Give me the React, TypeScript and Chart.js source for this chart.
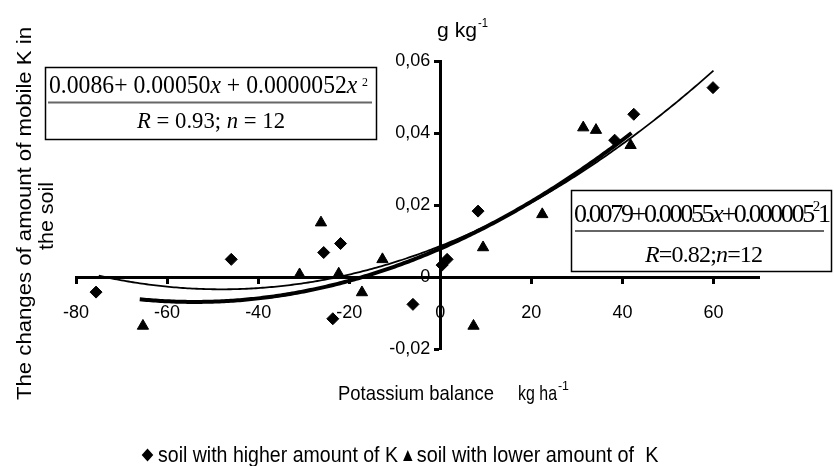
import React, { useEffect, useRef } from 'react';
import { Chart, registerables } from 'chart.js';

Chart.register(...registerables);

// ---- data ----
const higherX = [-75.6, -45.9, -25.6, -23.6, -21.9, -6.0, 0.4, 1.5, 8.3, 38.3, 42.5, 59.9];
const higherY = [-0.0042, 0.0049, 0.0068, -0.0116, 0.0093, -0.0076, 0.0033, 0.0049, 0.0183, 0.038, 0.0452, 0.0526];

const lowerX = [-65.3, -30.9, -26.2, -22.3, -17.2, -12.7, 7.3, 9.4, 22.4, 31.4, 34.2, 41.8];
const lowerY = [-0.0136, 0.0007, 0.0151, 0.0009, -0.0043, 0.0049, -0.0136, 0.0082, 0.0174, 0.0415, 0.0408, 0.0366];

// printed regression equations (a + b x + c x^2) and the x-range each curve covers
const higherFit = [0.0086, 0.0005, 0.0000052];
const higherFitRange = [-75, 60];
const lowerFit = [0.0079, 0.00055, 0.0000051];
const lowerFitRange = [-66, 42];

const xMin = -80;
const xMax = 70;
const xStep = 20;
const yMin = -0.02;
const yMax = 0.06;
const yStep = 0.02;

const legendLabels = ['soil with higher amount of K', 'soil with lower amount of  K'];
const yTitleLines = ['The changes of amount of mobile K in', 'the soil'];
const xTitle = 'Potassium balance';
const xUnit = 'kg ha';
const yUnit = 'g kg';
const unitSup = '-1';

const SANS = '"Liberation Sans", Arial, sans-serif';
const SERIF = '"Liberation Serif", "Times New Roman", serif';

function curve(c: number[], range: number[]) {
  const pts: { x: number; y: number }[] = [];
  for (let x = range[0]; x <= range[1] + 1e-9; x += 0.5) {
    pts.push({ x, y: c[0] + c[1] * x + c[2] * x * x });
  }
  return pts;
}

function fitText(ctx: CanvasRenderingContext2D, text: string, x: number, y: number, width: number, font: string, align: 'left' | 'center' = 'left') {
  ctx.font = font;
  ctx.textAlign = 'left';
  ctx.textBaseline = 'alphabetic';
  const w = ctx.measureText(text).width;
  const k = width / w;
  ctx.save();
  ctx.translate(x, y);
  ctx.scale(k, 1);
  ctx.fillText(text, align === 'center' ? -w / 2 : 0, 0);
  ctx.restore();
}

type Seg = { t: string; it?: boolean; sup?: boolean };

function drawRich(
  ctx: CanvasRenderingContext2D,
  segs: Seg[],
  left: number,
  baseline: number,
  width: number,
  size: number,
  supSize: number,
  supRaise: number,
  mode: 'scale' | 'spacing'
) {
  const fontFor = (s: Seg) => `${s.it ? 'italic ' : ''}${s.sup ? supSize : size}px ${SERIF}`;
  const chars: { ch: string; s: Seg; w: number }[] = [];
  segs.forEach((s) => {
    for (const ch of s.t) chars.push({ ch, s, w: 0 });
  });
  let natural = 0;
  chars.forEach((c) => {
    ctx.font = fontFor(c.s);
    c.w = ctx.measureText(c.ch).width;
    natural += c.w;
  });
  ctx.textAlign = 'left';
  ctx.textBaseline = 'alphabetic';
  if (mode === 'scale') {
    const k = width / natural;
    ctx.save();
    ctx.translate(left, baseline);
    ctx.scale(k, 1);
    let x = 0;
    chars.forEach((c) => {
      ctx.font = fontFor(c.s);
      ctx.fillText(c.ch, x, c.s.sup ? -supRaise : 0);
      x += c.w;
    });
    ctx.restore();
  } else {
    const extra = (width - natural) / Math.max(1, chars.length - 1);
    let x = left;
    chars.forEach((c) => {
      ctx.font = fontFor(c.s);
      ctx.fillText(c.ch, x, baseline - (c.s.sup ? supRaise : 0));
      x += c.w + extra;
    });
  }
}

const decorPlugin = {
  id: 'decor',
  beforeDraw(chart: any) {
    const ctx = chart.ctx as CanvasRenderingContext2D;
    ctx.save();
    ctx.fillStyle = '#fff';
    ctx.fillRect(0, 0, chart.width, chart.height);
    ctx.restore();
  },
  afterDraw(chart: any) {
    const ctx = chart.ctx as CanvasRenderingContext2D;
    ctx.save();
    ctx.fillStyle = '#000';
    ctx.strokeStyle = '#000';

    // y axis title (rotated, two lines)
    ctx.save();
    ctx.translate(30.5, 213.5);
    ctx.rotate(-Math.PI / 2);
    fitText(ctx, yTitleLines[0], 0, 0, 373, `21px ${SANS}`, 'center');
    ctx.restore();
    ctx.save();
    ctx.translate(53, 216);
    ctx.rotate(-Math.PI / 2);
    fitText(ctx, yTitleLines[1], 0, 0, 68, `21px ${SANS}`, 'center');
    ctx.restore();

    // y unit
    fitText(ctx, yUnit, 437, 37, 40, `21px ${SANS}`);
    fitText(ctx, unitSup, 478, 27, 10, `13px ${SANS}`);

    // x title + unit
    fitText(ctx, xTitle, 338, 399.5, 156, `21px ${SANS}`);
    fitText(ctx, xUnit, 518, 400, 39, `21px ${SANS}`);
    fitText(ctx, unitSup, 558, 390, 11, `13px ${SANS}`);

    // legend
    ctx.beginPath();
    ctx.moveTo(147.5, 448.5);
    ctx.lineTo(153.3, 455);
    ctx.lineTo(147.5, 461.5);
    ctx.lineTo(141.7, 455);
    ctx.closePath();
    ctx.fill();
    fitText(ctx, legendLabels[0], 158, 461.5, 240, `22px ${SANS}`);
    ctx.beginPath();
    ctx.moveTo(407.8, 450);
    ctx.lineTo(412.5, 461);
    ctx.lineTo(403.1, 461);
    ctx.closePath();
    ctx.fill();
    fitText(ctx, legendLabels[1], 416.7, 461.5, 241.7, `22px ${SANS}`);

    // equation box 1
    ctx.lineWidth = 1.5;
    ctx.strokeRect(45.5, 67.5, 331, 72);
    ctx.save();
    ctx.strokeStyle = '#666';
    ctx.lineWidth = 2;
    ctx.beginPath();
    ctx.moveTo(48, 102.5);
    ctx.lineTo(372, 102.5);
    ctx.stroke();
    ctx.restore();
    drawRich(
      ctx,
      [{ t: '0.0086+ 0.00050' }, { t: 'x', it: true }, { t: ' + 0.0000052' }, { t: 'x', it: true }, { t: '\u2009' }, { t: '2', sup: true }],
      49, 93, 319, 26, 13, 7, 'scale'
    );
    drawRich(
      ctx,
      [{ t: 'R', it: true }, { t: ' = 0.93; ' }, { t: 'n', it: true }, { t: ' = 12' }],
      137, 128, 148, 23, 14, 7, 'scale'
    );

    // equation box 2 (overlapping glyphs as in the reference)
    ctx.lineWidth = 1.5;
    ctx.strokeRect(571.5, 190.5, 260, 81);
    ctx.save();
    ctx.strokeStyle = '#666';
    ctx.lineWidth = 2;
    ctx.beginPath();
    ctx.moveTo(575, 231);
    ctx.lineTo(824, 231);
    ctx.stroke();
    ctx.restore();
    drawRich(
      ctx,
      [{ t: '0.0079+0.00055' }, { t: 'x', it: true }, { t: '+0.000005' }, { t: '2', sup: true }, { t: '1' }],
      574, 221.5, 257, 26, 15, 11, 'spacing'
    );
    drawRich(
      ctx,
      [{ t: 'R', it: true }, { t: '=0.82;' }, { t: 'n', it: true }, { t: '=12' }],
      645, 262, 118, 24, 14, 7, 'spacing'
    );

    ctx.restore();
  },
};

export default function App() {
  const canvasRef = useRef<HTMLCanvasElement | null>(null);

  useEffect(() => {
    if (!canvasRef.current) return;
    const higherPts = higherX.map((x, i) => ({ x, y: higherY[i] }));
    const lowerPts = lowerX.map((x, i) => ({ x, y: lowerY[i] }));
    const tickFont = { family: SANS, size: 18 };

    const chart = new Chart(canvasRef.current, {
      type: 'scatter',
      data: {
        datasets: [
          {
            label: 'fit higher',
            data: curve(higherFit, higherFitRange),
            showLine: true,
            borderColor: '#000',
            borderWidth: 1.8,
            pointRadius: 0,
            fill: false,
          },
          {
            label: 'fit lower',
            data: curve(lowerFit, lowerFitRange),
            showLine: true,
            borderColor: '#000',
            borderWidth: 4,
            pointRadius: 0,
            fill: false,
          },
          {
            label: legendLabels[0],
            data: higherPts,
            pointStyle: 'rectRot',
            pointRadius: 6,
            backgroundColor: '#000',
            borderColor: '#000',
            borderWidth: 1,
          },
          {
            label: legendLabels[1],
            data: lowerPts,
            pointStyle: 'triangle',
            pointRadius: 6.5,
            backgroundColor: '#000',
            borderColor: '#000',
            borderWidth: 1,
          },
        ],
      } as any,
      options: {
        responsive: false,
        animation: false,
        events: [],
        layout: { padding: { left: 76, right: 75, top: 61, bottom: 117 } },
        plugins: {
          legend: { display: false },
          tooltip: { enabled: false },
          title: { display: false },
        },
        scales: {
          x: {
            type: 'linear',
            position: { y: 0 } as any,
            min: xMin,
            max: xMax,
            afterFit: (s: any) => {
              s.height = 0;
            },
            ticks: {
              stepSize: xStep,
              includeBounds: false,
              padding: 20,
              color: '#000',
              font: tickFont,
              maxRotation: 0,
              autoSkip: false,
              callback: (v: any) => String(v),
            },
            grid: {
              drawOnChartArea: false,
              drawTicks: true,
              tickLength: 5,
              tickWidth: 3,
              tickColor: '#000',
            },
            border: { display: true, color: '#000', width: 3 },
          },
          y: {
            type: 'linear',
            position: { x: 0 } as any,
            min: yMin,
            max: yMax,
            afterFit: (s: any) => {
              s.width = 0;
            },
            ticks: {
              stepSize: yStep,
              padding: 5,
              color: '#000',
              font: tickFont,
              autoSkip: false,
              // trailing spaces keep the labels clear of the centred axis line
              callback: (v: any) => {
                const n = Number(v);
                if (Math.abs(n) < 1e-9) return '0  ';
                return n.toFixed(2).replace('.', ',') + '  ';
              },
            },
            grid: {
              drawOnChartArea: false,
              drawTicks: true,
              tickLength: 5,
              tickWidth: 3,
              tickColor: '#000',
            },
            border: { display: true, color: '#000', width: 3 },
          },
        },
      } as any,
      plugins: [decorPlugin],
    });
    return () => chart.destroy();
  }, []);

  return (
    <div style={{ position: 'absolute', left: 0, top: 0, width: 834, height: 466, background: '#fff' }}>
      <canvas ref={canvasRef} width={834} height={466} style={{ width: 834, height: 466, display: 'block' }} />
    </div>
  );
}
